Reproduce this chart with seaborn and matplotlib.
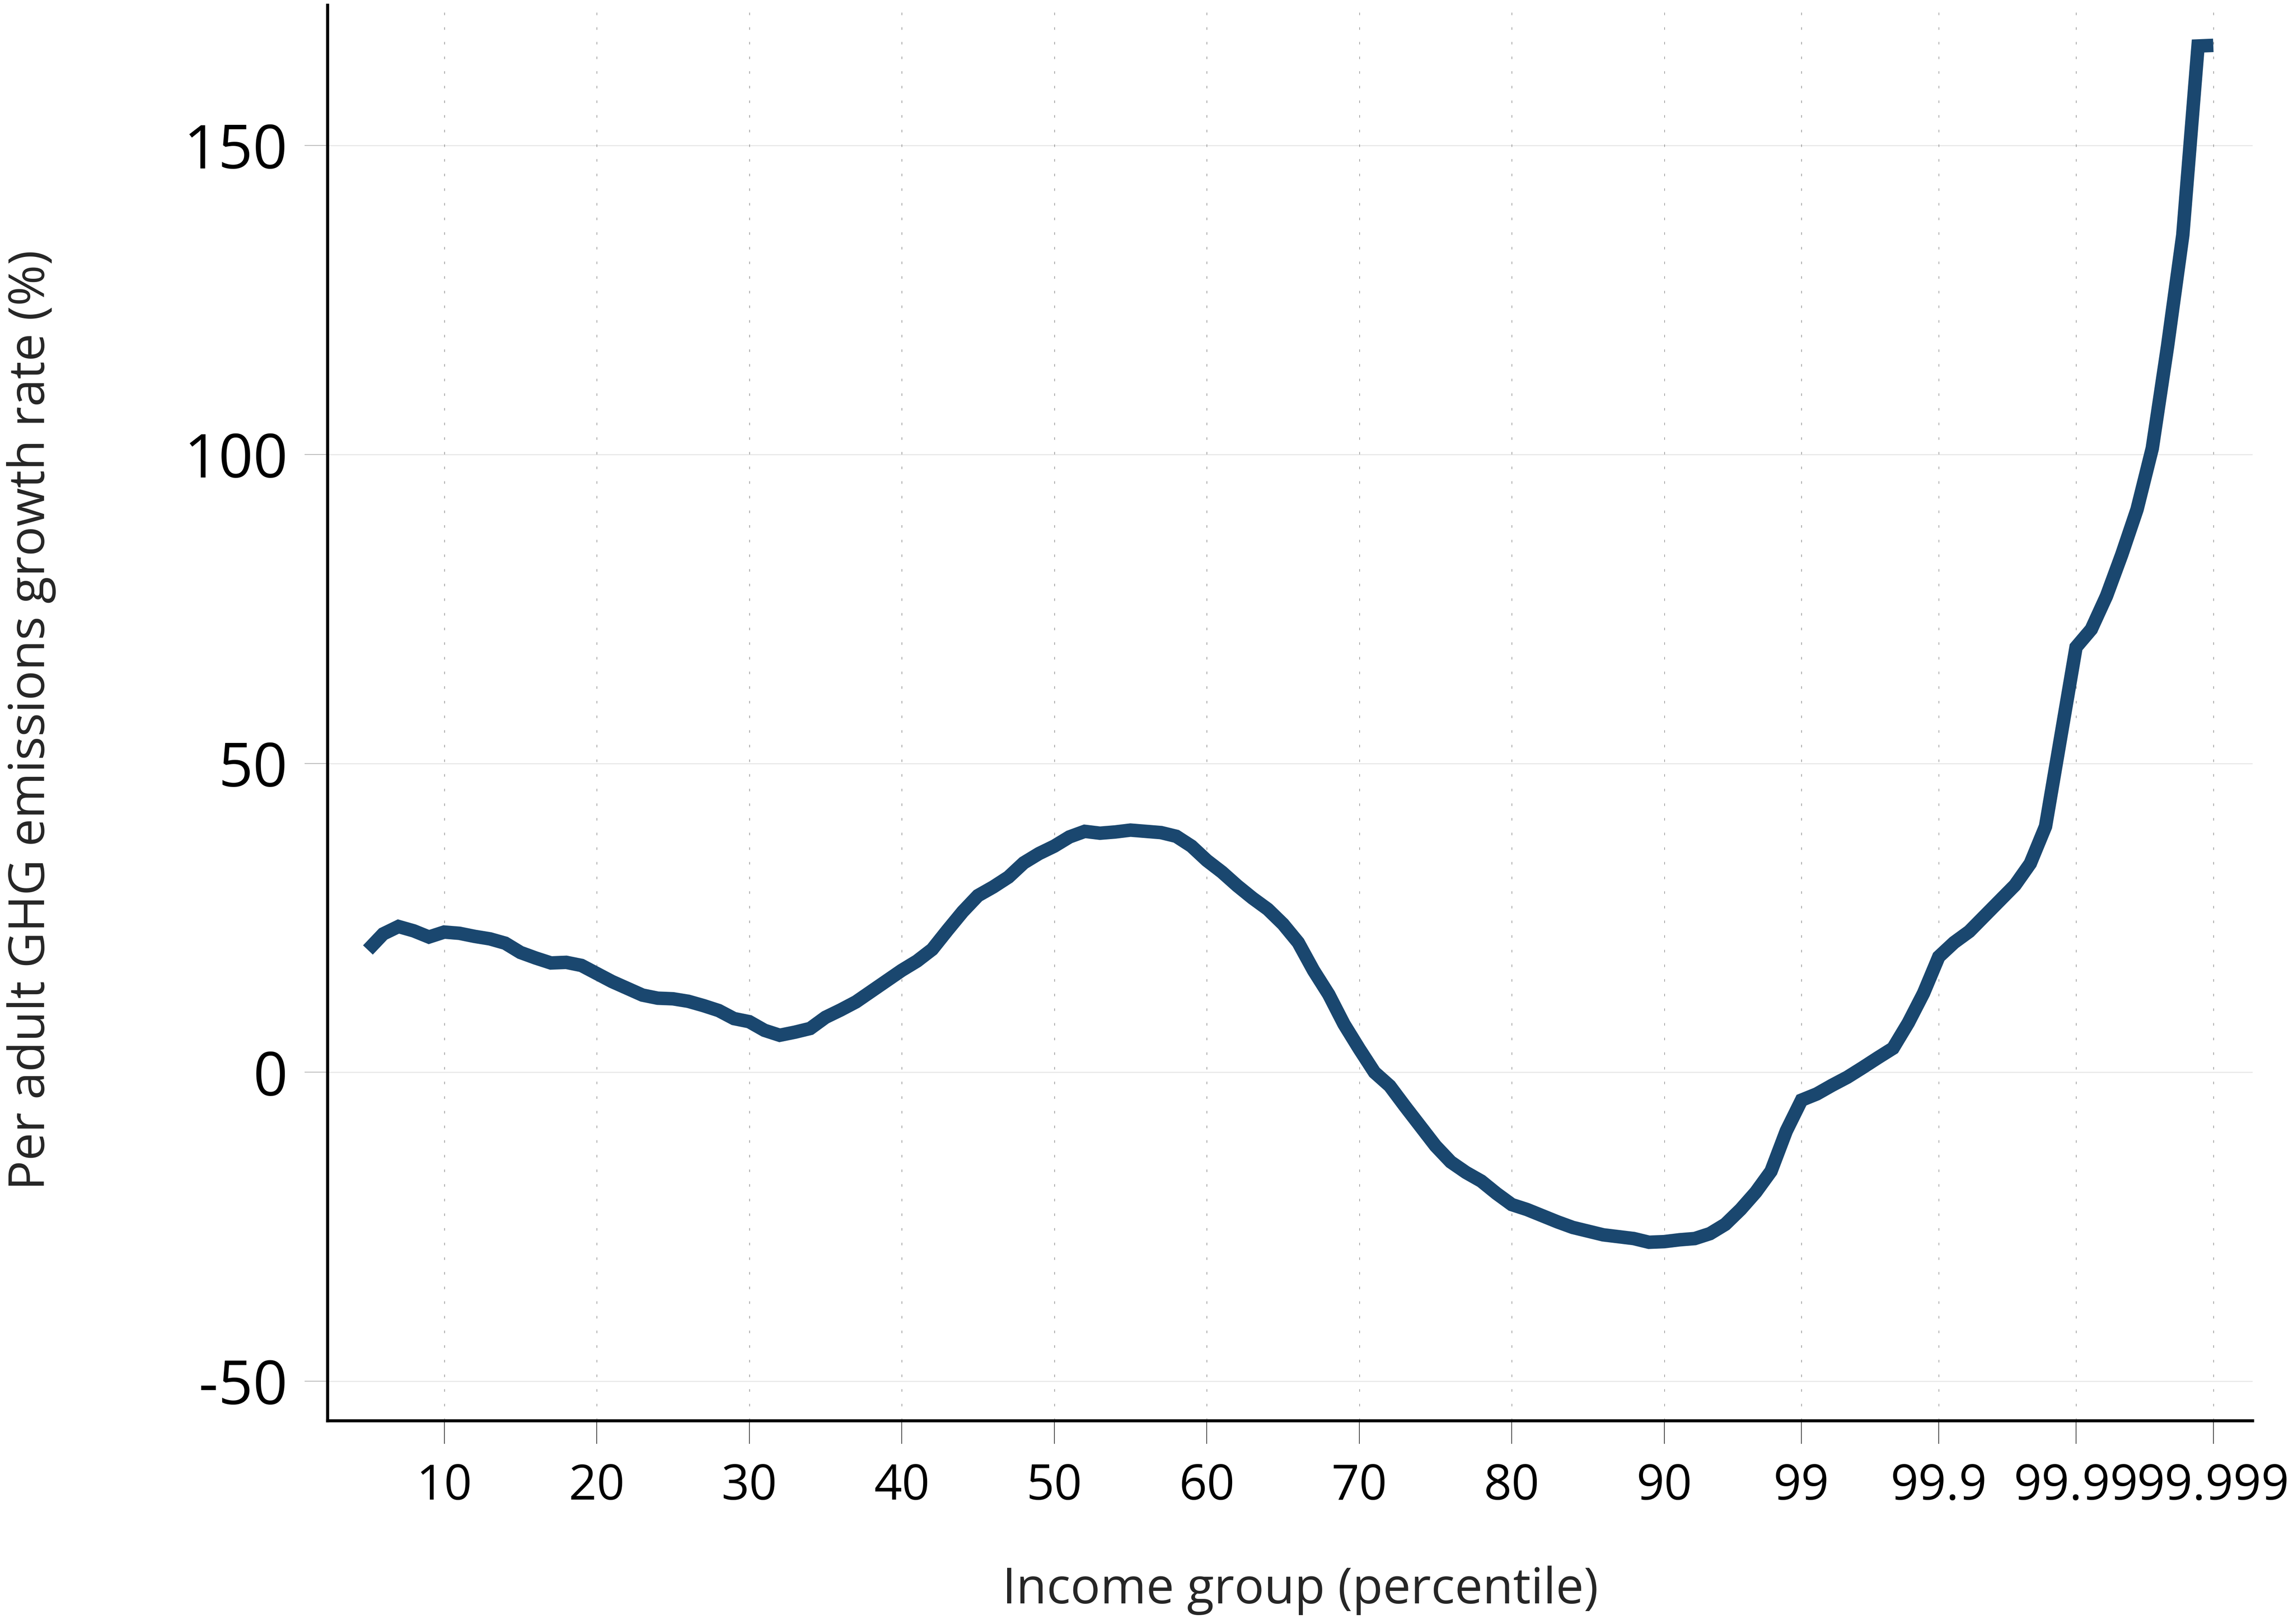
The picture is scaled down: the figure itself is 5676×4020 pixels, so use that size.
import numpy as np
import pandas as pd
import matplotlib
matplotlib.use('Agg')
import matplotlib.pyplot as plt
import seaborn as sns

# income groups in plot order: p0..p99, then the top percentile split finer
brackets = ([str(p) for p in range(100)]
            + ['99.' + str(d) for d in range(1, 10)]
            + ['99.9' + str(d) for d in range(1, 10)]
            + ['99.99' + str(d) for d in range(1, 10)])

# groups that have a value (p5 up to p99.999)
groups = brackets[5:]

# per adult GHG emissions growth rate (%)
growth = [
    19.8, 22.4, 23.6, 22.9, 21.9,                                # p5-p9
    22.7, 22.5, 22.0, 21.6, 20.9, 19.4, 18.5, 17.7, 17.8, 17.3,  # p10-p19
    16.0, 14.7, 13.6, 12.5, 12.0, 11.9, 11.5, 10.8, 10.0, 8.7,   # p20-p29
    8.2, 6.8, 6.0, 6.5, 7.1, 8.9, 10.1, 11.4, 13.1, 14.8,        # p30-p39
    16.5, 18.0, 19.9, 23.0, 26.0, 28.6, 30.0, 31.6, 33.9, 35.4,  # p40-p49
    36.6, 38.1, 39.0, 38.7, 38.9, 39.2, 39.0, 38.8, 38.2, 36.6,  # p50-p59
    34.3, 32.4, 30.2, 28.2, 26.4, 24.0, 21.0, 16.5, 12.6, 7.8,   # p60-p69
    3.8, 0.0, -2.2, -5.5, -8.7, -11.9, -14.5, -16.2, -17.6, -19.6,      # p70-p79
    -21.4, -22.2, -23.2, -24.2, -25.1, -25.7, -26.3, -26.6, -26.9, -27.5,  # p80-p89
    -27.4, -27.1, -26.9, -26.1, -24.6, -22.2, -19.4, -16.0, -9.5, -4.5,    # p90-p99
    -3.5, -2.1, -0.8, 0.75, 2.35, 3.9, 8.0, 12.8, 18.7,          # p99.1-p99.9
    21.0, 22.8, 25.3, 27.8, 30.3, 33.8, 39.8, 54.3, 68.8,        # p99.91-p99.99
    71.7, 77.1, 83.8, 91.1, 101.0, 117.5, 135.5, 166.1, 166.2,   # p99.991-p99.999
]

tick_labels = ['10', '20', '30', '40', '50', '60', '70', '80', '90',
               '99', '99.9', '99.99', '99.999']
y_ticks = [-50, 0, 50, 100, 150]

df = pd.DataFrame({'group': groups, 'growth': growth})
df['rank'] = df['group'].map(brackets.index)
tick_pos = [brackets.index(t) for t in tick_labels]

sns.set_theme(style='white')
plt.rcParams['font.family'] = ['Open Sans', 'DejaVu Sans']

fig = plt.figure(figsize=(18.92, 13.4), dpi=300)
ax = fig.add_axes([0.1429, 0.1251, 0.8395, 0.8717])

# grid: light solid horizontals, dotted verticals
for y in y_ticks:
    ax.axhline(y, color='#e6e6e6', lw=0.6, zorder=0)
for x in tick_pos:
    ax.axvline(x, color='#777777', lw=0.3, ls=(0, (5, 24)), zorder=0)

sns.lineplot(data=df, x='rank', y='growth', color='#1a476f', linewidth=8,
             ax=ax, solid_capstyle='butt', solid_joinstyle='miter')

ax.set_xlim(2.36, 128.58)
ax.set_ylim(-56.4, 172.7)

ax.set_xticks(tick_pos)
ax.set_xticklabels(tick_labels, fontsize=29)
ax.set_yticks(y_ticks)
ax.set_yticklabels([str(v) for v in y_ticks], fontsize=36)

ax.tick_params(axis='x', length=13.7, width=0.4, color='#222222', pad=11,
               bottom=True, labelcolor='black')
ax.tick_params(axis='y', length=13.7, width=0.4, color='#aaaaaa', pad=10,
               left=True, labelcolor='black')

for side in ['top', 'right']:
    ax.spines[side].set_visible(False)
for side in ['left', 'bottom']:
    ax.spines[side].set_color('black')
    ax.spines[side].set_linewidth(1.8)

ax.set_xlabel('')
ax.set_ylabel('')
fig.text(0.567, 0.0207, 'Income group (percentile)', fontsize=29.5,
         ha='center', va='center')
fig.text(0.0137, 0.5565, 'Per adult GHG emissions growth rate (%)', fontsize=29.5,
         rotation=90, ha='center', va='center')

fig.savefig('out.png', dpi=300, facecolor='white')
